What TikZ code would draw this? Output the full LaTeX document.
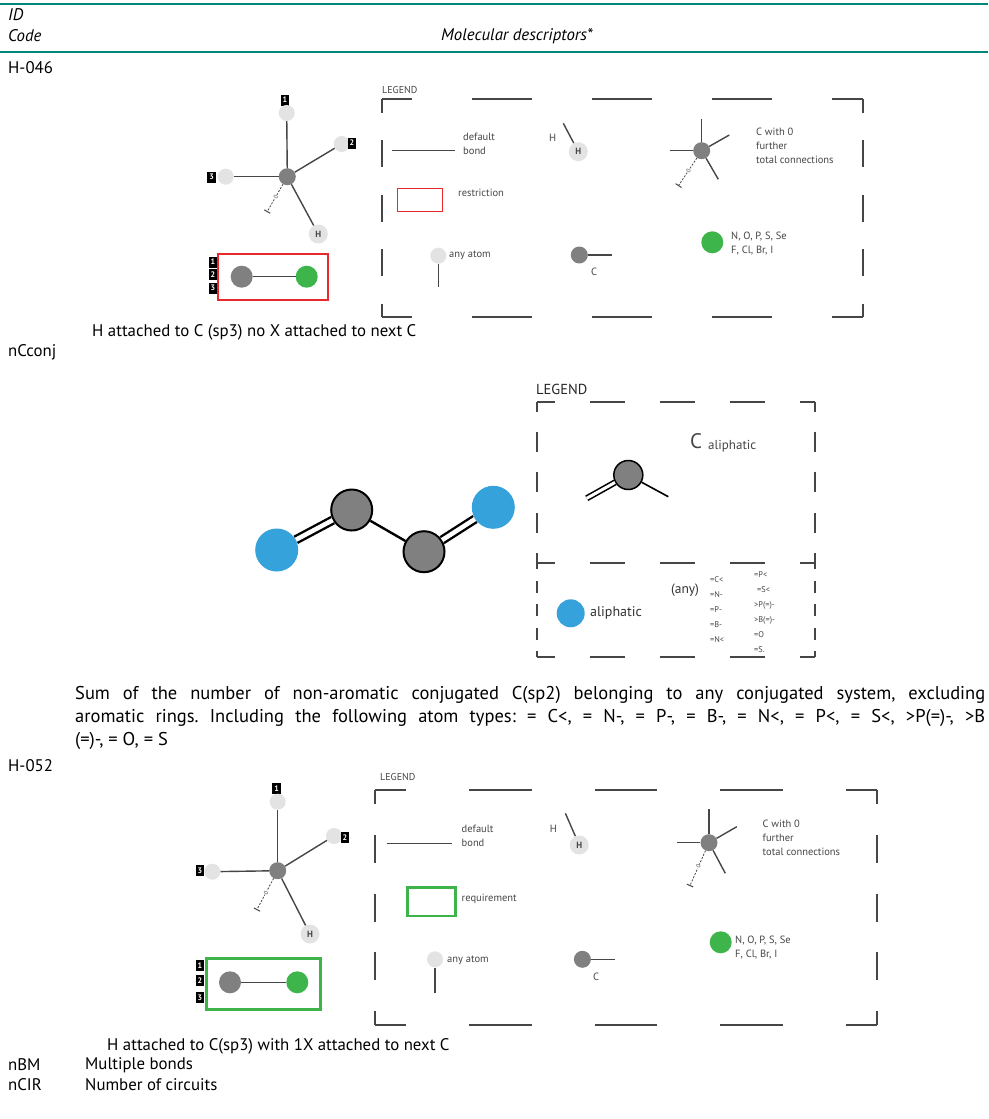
\documentclass[tikz,border=0pt]{standalone}
\usepackage{fontspec}
\setmainfont{PT Sans}
\usepackage{xcolor}
\usetikzlibrary{arrows.meta}
\definecolor{TealRule}{RGB}{0,133,122}
\definecolor{CarbonGray}{RGB}{128,128,128}
\definecolor{HeteroGreen}{RGB}{61,181,74}
\definecolor{RestrictRed}{RGB}{232,40,42}
\definecolor{AliphBlue}{RGB}{54,162,220}
\definecolor{LegendInk}{RGB}{70,70,70}
\colorlet{LightAtom}{gray!22}
\newcommand{\captionSize}{\fontsize{16.8}{23}\selectfont}
\newcommand{\paraSize}{\fontsize{18.5}{23}\selectfont}
\newcommand{\legendSize}{\fontsize{10.5}{14}\selectfont}
\newcommand{\listSize}{\fontsize{8.3}{15}\selectfont}
\tikzstyle{atomAny}=[circle,fill=LightAtom,minimum size=16pt,inner sep=0pt]
\tikzstyle{atomCarbon}=[circle,fill=CarbonGray,minimum size=17pt,inner sep=0pt]
\tikzstyle{atomHetero}=[circle,fill=HeteroGreen,minimum size=22pt,inner sep=0pt]
\tikzstyle{atomHydro}=[circle,fill=LightAtom,minimum size=19pt,inner sep=0pt,text=LegendInk,font=\fontsize{9}{9}\selectfont\bfseries]
\tikzstyle{idBox}=[fill=black,text=white,minimum width=8.5pt,minimum height=11pt,inner sep=0pt,font=\fontsize{8}{8}\selectfont\bfseries]
\tikzstyle{bondLine}=[draw=LegendInk,line width=1.4pt]
\tikzstyle{zeroTail}=[draw=LegendInk,line width=0.8pt,dash pattern=on 2pt off 1.5pt,-{Bar[width=7pt,line width=1pt]}]
\tikzstyle{zeroLabel}=[pos=0.45,sloped,fill=white,inner sep=0.5pt,text=LegendInk,font=\fontsize{6}{6}\selectfont]
\tikzstyle{legendFrame}=[draw=LegendInk,line width=1.8pt]
\tikzstyle{legendText}=[text=LegendInk,align=left,inner sep=0pt,font=\legendSize]
\tikzstyle{legendTitle}=[text=LegendInk,inner sep=0pt,font=\fontsize{10}{10}\selectfont]
\tikzstyle{bodyText}=[inner sep=0pt,font=\captionSize]
\tikzstyle{conjCarbon}=[circle,draw=black,line width=2pt,fill=CarbonGray,minimum size=41pt,inner sep=0pt]
\tikzstyle{conjHetero}=[circle,fill=AliphBlue,minimum size=43pt,inner sep=0pt]
\tikzstyle{singleBond}=[draw=black,line width=2.4pt]
\tikzstyle{doubleBond}=[draw=black,double=white,double distance=4.5pt,line width=2.4pt]

\begin{document}
\begin{tikzpicture}[x=1pt,y=-1pt]
        \fill[white] (0,0) rectangle (988,1119);
        \useasboundingbox (0,0) rectangle (988,1119);

        % Table header
        \draw[TealRule, line width=2.5pt] (0,4) -- (988,4);
        \node[bodyText, anchor=west] (hdId) at (8, 15) {\itshape ID};
        \node[bodyText, anchor=west] (hdCode) at (8, 36) {\itshape Code};
        \node[bodyText] (hdDesc) at (517, 36) {\itshape Molecular descriptors*};
        \draw[TealRule, line width=2.5pt] (0,52) -- (988,52);

        % H-046
        \node[bodyText, anchor=west] (idA) at (8, 68) {H-046};
        \node[idBox] (aLab1) at (285, 100) {1};
        \node[atomAny] (a1) at (286.7, 113) {};
        \node[atomCarbon] (aC) at (287.3, 176.7) {};
        \node[atomAny] (a2) at (341.7, 144) {};
        \node[idBox] (aLab2) at (352, 143) {2};
        \node[atomAny] (a3) at (225.7, 176.7) {};
        \node[idBox] (aLab3) at (211.7, 177) {3};
        \node[atomHydro] (aH) at (318.3, 234) {H};
        \coordinate (aZ) at (267, 212);
        \draw[bondLine] (aC) -- (a1);
        \draw[bondLine] (aC) -- (a2);
        \draw[bondLine] (aC) -- (a3);
        \draw[bondLine] (aC) -- (aH);
        \draw[zeroTail] (aC) -- node[zeroLabel] {0} (aZ);

        \node[draw=RestrictRed, line width=2pt, minimum width=110pt, minimum height=46pt] (aBox) at (273.3, 277) {};
        \node[atomCarbon, minimum size=22pt] (aBC) at (241.7, 276.7) {};
        \node[atomHetero] (aBX) at (306.7, 276.7) {};
        \draw[bondLine] (aBC) -- (aBX);
        \node[idBox] (aBLab1) at (213, 262) {1};
        \node[idBox] (aBLab2) at (213, 274.5) {2};
        \node[idBox] (aBLab3) at (213, 288) {3};

        % Legend of H-046
        \node[legendTitle, anchor=west] (legA) at (382, 90) {LEGEND};
        \coordinate (fAnw) at (382, 99);
        \coordinate (fAne) at (863, 99);
        \coordinate (fAsw) at (382, 317);
        \coordinate (fAse) at (863, 317);
        \draw[legendFrame, dash pattern=on 60pt off 60pt, dash phase=30pt] (fAnw) -- (fAne) (fAsw) -- (fAse);
        \draw[legendFrame, dash pattern=on 27pt off 27.5pt, dash phase=13.5pt] (fAnw) -- (fAsw) (fAne) -- (fAse);

        \coordinate (dbA1) at (391.7, 150.7);
        \coordinate (dbA2) at (455, 150.7);
        \draw[bondLine] (dbA1) -- (dbA2);
        \node[legendText, anchor=west] (dbAtext) at (463, 144) {default\\bond};
        \node[legendText] (hAsmall) at (552.7, 138.3) {H};
        \node[atomHydro] (hA) at (578.3, 151.7) {H};
        \coordinate (hAend) at (563.3, 123.3);
        \draw[bondLine] (hAend) -- (hA);
        \node[atomCarbon] (sA) at (701.7, 150.7) {};
        \coordinate (sAu) at (701.7, 119.3);
        \coordinate (sAr) at (729.3, 135);
        \coordinate (sAl) at (670, 150.7);
        \coordinate (sAd) at (718.3, 179.3);
        \coordinate (sAz) at (678.3, 186);
        \draw[bondLine] (sA) -- (sAu);
        \draw[bondLine] (sA) -- (sAr);
        \draw[bondLine] (sA) -- (sAl);
        \draw[bondLine] (sA) -- (sAd);
        \draw[zeroTail] (sA) -- node[zeroLabel] {0} (sAz);
        \node[legendText, anchor=west] (sAtext) at (756, 145.7) {C with 0\\further\\total connections};
        \node[draw=RestrictRed, line width=1.8pt, minimum width=45pt, minimum height=23pt] (rA) at (420, 200) {};
        \node[legendText, anchor=west] (rAtext) at (458, 193.3) {restriction};
        \node[atomAny] (anA) at (438.3, 255.7) {};
        \coordinate (anAend) at (438.3, 286.7);
        \draw[bondLine] (anA) -- (anAend);
        \node[legendText, anchor=west] (anAtext) at (449, 255.7) {any atom};
        \node[atomCarbon] (cA) at (579.3, 255) {};
        \coordinate (cAend) at (611.7, 255);
        \draw[bondLine] (cA) -- (cAend);
        \node[legendText] (cAtext) at (594, 271.7) {C};
        \node[atomHetero] (xA) at (712.3, 242.3) {};
        \node[legendText, anchor=west] (xAtext) at (731, 244) {N, O, P, S, Se\\F, Cl, Br, I};

        \node[bodyText, anchor=west] (capA) at (92, 332) {H attached to C (sp3) no X attached to next C};

        % nCconj
        \node[bodyText, anchor=west] (idB) at (8, 352) {nCconj};
        \node[conjHetero] (b1) at (276.7, 550) {};
        \node[conjCarbon] (b2) at (351.7, 510) {};
        \node[conjCarbon] (b3) at (424, 551.7) {};
        \node[conjHetero] (b4) at (493.3, 507.3) {};
        \draw[doubleBond] (b1) -- (b2);
        \draw[singleBond] (b2) -- (b3);
        \draw[doubleBond] (b3) -- (b4);

        % Legend of nCconj
        \node[text=black!85, inner sep=0pt, anchor=west, font=\fontsize{14.5}{14.5}\selectfont] (legB) at (536, 389.3) {LEGEND};
        \coordinate (fBnw) at (537, 401.7);
        \coordinate (fBne) at (815, 401.7);
        \coordinate (fBw) at (537, 563);
        \coordinate (fBe) at (815, 563);
        \coordinate (fBsw) at (537, 657.3);
        \coordinate (fBse) at (815, 657.3);
        \draw[legendFrame, dash pattern=on 35pt off 35pt, dash phase=17.5pt] (fBnw) -- (fBne) (fBw) -- (fBe) (fBsw) -- (fBse);
        \draw[legendFrame, dash pattern=on 20pt off 20.3pt, dash phase=10pt] (fBnw) -- (fBw) (fBne) -- (fBe);
        \draw[legendFrame, dash pattern=on 12pt off 11.6pt, dash phase=6pt] (fBw) -- (fBsw) (fBe) -- (fBse);

        \node[text=LegendInk, inner sep=0pt, anchor=base west] (cAliph) at (690, 448) {\fontsize{21}{21}\selectfont C\hspace{6pt}\raisebox{-1.5pt}{\fontsize{13}{13}\selectfont aliphatic}};
        \node[conjCarbon, minimum size=29pt, line width=1.5pt] (lB) at (628.3, 475) {};
        \coordinate (lBd) at (586.7, 498.3);
        \coordinate (lBs) at (668.3, 496.7);
        \draw[doubleBond, line width=1.6pt, double distance=3pt] (lB) -- (lBd);
        \draw[singleBond, line width=1.6pt] (lB) -- (lBs);
        \node[conjHetero, minimum size=28pt] (xB) at (570.7, 613.3) {};
        \node[text=black!80, inner sep=0pt, anchor=west, font=\fontsize{14}{14}\selectfont] (xBtext) at (590, 613.3) {aliphatic};
        \node[text=black!80, inner sep=0pt, font=\fontsize{13.5}{13.5}\selectfont] (anyB) at (685, 590) {(any)};
        \node[legendText, anchor=west, font=\listSize] (listB1) at (710, 609.7) {=C<\\=N-\\=P-\\=B-\\=N<};
        \node[legendText, anchor=west, font=\listSize] (listB2) at (754, 611.7) {=P<\\\hspace*{3pt}=S<\\>P(=)-\\>B(=)-\\=O\\=S.};

        \node[bodyText, font=\paraSize, anchor=north west, text width=910pt, align=justify] (capB) at (75, 686) {\frenchspacing Sum of the number of non-aromatic conjugated C(sp2) belonging to any conjugated system, excluding\linebreak aromatic rings. Including the following atom types: = C<, = N-, = P-, = B-, = N<, = P<, = S<, >P(=)-, >B\linebreak (=)-, = O, = S};

        % H-052
        \node[bodyText, anchor=west] (idC) at (8, 766) {H-052};
        \node[idBox] (cLab1) at (276.7, 788.3) {1};
        \node[atomAny] (c1) at (277.7, 801.7) {};
        \node[atomCarbon] (cC) at (277.7, 870.7) {};
        \node[atomAny] (c2) at (334, 836) {};
        \node[idBox] (cLab2) at (345, 837.3) {2};
        \node[atomAny] (c3) at (212.3, 871.7) {};
        \node[idBox] (cLab3) at (200, 870.7) {3};
        \node[atomHydro] (cH) at (310, 934) {H};
        \coordinate (cZ) at (256.7, 910);
        \draw[bondLine] (cC) -- (c1);
        \draw[bondLine] (cC) -- (c2);
        \draw[bondLine] (cC) -- (c3);
        \draw[bondLine] (cC) -- (cH);
        \draw[zeroTail] (cC) -- node[zeroLabel] {0} (cZ);

        \node[draw=HeteroGreen, line width=3pt, minimum width=114pt, minimum height=51pt] (cBox) at (263, 983.8) {};
        \node[atomCarbon, minimum size=22pt] (cBC) at (230, 982.3) {};
        \node[atomHetero] (cBX) at (297.3, 982.3) {};
        \draw[bondLine] (cBC) -- (cBX);
        \node[idBox] (cBLab1) at (200, 965.3) {1};
        \node[idBox] (cBLab2) at (200, 980.7) {2};
        \node[idBox] (cBLab3) at (200, 997.3) {3};

        % Legend of H-052
        \node[legendTitle, anchor=west] (legC) at (380, 777) {LEGEND};
        \coordinate (fCnw) at (375, 790);
        \coordinate (fCne) at (877, 790);
        \coordinate (fCsw) at (375, 1025);
        \coordinate (fCse) at (877, 1025);
        \draw[legendFrame, dash pattern=on 62.75pt off 62.75pt, dash phase=31.4pt] (fCnw) -- (fCne) (fCsw) -- (fCse);
        \draw[legendFrame, dash pattern=on 28pt off 30.75pt, dash phase=14pt] (fCnw) -- (fCsw) (fCne) -- (fCse);

        \coordinate (dbC1) at (386.6, 843.3);
        \coordinate (dbC2) at (452, 843.3);
        \draw[bondLine] (dbC1) -- (dbC2);
        \node[legendText, anchor=west] (dbCtext) at (461.5, 835.5) {default\\bond};
        \node[legendText] (hCsmall) at (553.4, 829.3) {H};
        \node[atomHydro] (hC) at (579.2, 845) {H};
        \coordinate (hCend) at (565.4, 813.3);
        \draw[bondLine] (hCend) -- (hC);
        \node[atomCarbon] (sC) at (709, 842.7) {};
        \coordinate (sCu) at (709, 809.3);
        \coordinate (sCr) at (736.8, 826.7);
        \coordinate (sCl) at (677, 842.7);
        \coordinate (sCd) at (725.3, 873.3);
        \coordinate (sCz) at (689.8, 886);
        \draw[bondLine] (sC) -- (sCu);
        \draw[bondLine] (sC) -- (sCr);
        \draw[bondLine] (sC) -- (sCl);
        \draw[bondLine] (sC) -- (sCd);
        \draw[zeroTail] (sC) -- node[zeroLabel] {0} (sCz);
        \node[legendText, anchor=west] (sCtext) at (762.5, 838) {C with 0\\further\\total connections};
        \node[draw=HeteroGreen, line width=2.8pt, minimum width=48pt, minimum height=28.7pt] (qC) at (431.5, 901.7) {};
        \node[legendText, anchor=west] (qCtext) at (461.5, 899.3) {requirement};
        \node[atomAny] (anC) at (435, 959.3) {};
        \coordinate (anCend) at (435, 993.3);
        \draw[bondLine] (anC) -- (anCend);
        \node[legendText, anchor=west] (anCtext) at (447, 960) {any atom};
        \node[atomCarbon] (cCl) at (582.4, 959.3) {};
        \coordinate (cClend) at (614.7, 959.3);
        \draw[bondLine] (cCl) -- (cClend);
        \node[legendText] (cCltext) at (596, 976.7) {C};
        \node[atomHetero] (xC) at (720.7, 942.3) {};
        \node[legendText, anchor=west] (xCtext) at (735, 947.3) {N, O, P, S, Se\\F, Cl, Br, I};

        \node[bodyText, anchor=west] (capC) at (107, 1046) {H attached to C(sp3) with 1X attached to next C};

        % Further codes
        \node[bodyText, anchor=west] (idD) at (8, 1065) {nBM};
        \node[bodyText, anchor=west] (descD) at (85, 1065) {Multiple bonds};
        \node[bodyText, anchor=west] (idE) at (8, 1085) {nCIR};
        \node[bodyText, anchor=west] (descE) at (85, 1085) {Number of circuits};
\end{tikzpicture}
\end{document}
